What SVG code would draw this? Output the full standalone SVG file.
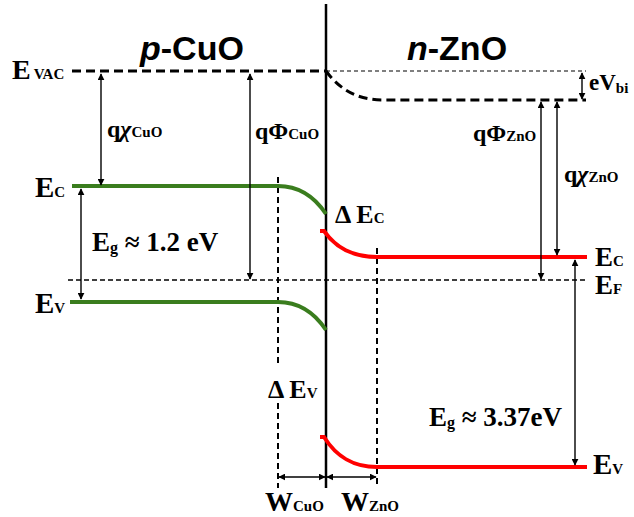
<svg xmlns="http://www.w3.org/2000/svg" width="634" height="517" viewBox="0 0 634 517">
<style>
.lbl{font-family:"Liberation Serif","Times New Roman",serif;font-weight:bold;fill:#000}
.sub{font-size:15px}
.it{font-style:italic}
.ttl{font-family:"Liberation Sans",Arial,sans-serif;font-weight:bold;font-size:34px;fill:#000}
.arr{stroke:#000;stroke-width:1.4;fill:none;marker-start:url(#ah);marker-end:url(#ah)}
.vd{stroke:#000;stroke-width:2;stroke-dasharray:6 4;fill:none}
.green{stroke:#3a7d1e;stroke-width:4;fill:none}
.red{stroke:#ff0000;stroke-width:4;fill:none}
</style>
<defs>
<marker id="ah" viewBox="0 0 10 10" refX="9" refY="5" markerWidth="7" markerHeight="7" markerUnits="userSpaceOnUse" orient="auto-start-reverse">
<path d="M0,0 L10,5 L0,10 Z" fill="#000"/>
</marker>
</defs>
<rect width="634" height="517" fill="#fff"/>

<g id="titles">
<text class="ttl" x="140" y="60"><tspan font-style="italic">p</tspan>-CuO</text>
<text class="ttl" x="407" y="60"><tspan font-style="italic">n</tspan>-ZnO</text>
</g>

<g id="interface">
<line x1="326" y1="4" x2="326" y2="488" stroke="#000" stroke-width="2.5"/>
</g>

<g id="vacuum-level">
<line x1="72" y1="71" x2="326" y2="71" stroke="#000" stroke-width="3" stroke-dasharray="9 5"/>
<line x1="326" y1="71" x2="586" y2="71" stroke="#000" stroke-width="1.2" stroke-dasharray="4 3"/>
<path d="M326,71 C340,90 358,100 383,100 L586,100" stroke="#000" stroke-width="3" stroke-dasharray="9 5" fill="none"/>
</g>

<g id="fermi-level">
<line x1="68" y1="280" x2="588" y2="280" stroke="#000" stroke-width="1.5" stroke-dasharray="5 3"/>
</g>

<g id="depletion-bounds">
<line class="vd" x1="278" y1="177" x2="278" y2="367"/>
<line class="vd" x1="278" y1="403" x2="278" y2="488"/>
<line class="vd" x1="377" y1="248" x2="377" y2="488"/>
</g>

<g id="cuo-bands">
<path class="green" d="M72,186 L278,186 C298,186 314,196 326,214"/>
<path class="green" d="M70,302 L278,302 C298,302 314,312 326,330"/>
</g>

<g id="zno-bands">
<path class="red" d="M320,231 L324,231 C336,248 352,257 377,257 L587,257"/>
<path class="red" d="M320,437 L324,437 C336,456 352,467 377,467 L587,467"/>
</g>

<g id="connectors">
<line class="arr" x1="101" y1="74" x2="101" y2="185"/>
<line class="arr" x1="250" y1="74" x2="250" y2="279"/>
<line class="arr" x1="81" y1="189" x2="81" y2="299"/>
<line class="arr" x1="582" y1="73" x2="582" y2="99"/>
<line class="arr" x1="541" y1="102" x2="541" y2="279"/>
<line class="arr" x1="557" y1="102" x2="557" y2="255"/>
<line class="arr" x1="575" y1="260" x2="575" y2="465"/>
<line class="arr" x1="279" y1="477" x2="325" y2="477"/>
<line class="arr" x1="327" y1="477" x2="376" y2="477"/>
</g>

<g id="labels">
<text class="lbl" x="12" y="79" font-size="28">E<tspan class="sub" dx="3">VAC</tspan></text>
<text class="lbl" x="35" y="197" font-size="29">E<tspan class="sub">C</tspan></text>
<text class="lbl" x="35" y="313" font-size="29">E<tspan class="sub">V</tspan></text>
<text class="lbl" x="107" y="137" font-size="24">q<tspan class="it">χ</tspan><tspan class="sub">CuO</tspan></text>
<text class="lbl" x="255" y="139" font-size="24">qΦ<tspan class="sub">CuO</tspan></text>
<text class="lbl" x="92" y="251" font-size="27">E<tspan font-size="16" dy="2">g</tspan><tspan dy="-2"> ≈ 1.2 eV</tspan></text>
<text class="lbl" x="335" y="223" font-size="26">Δ E<tspan class="sub">C</tspan></text>
<text class="lbl" x="268" y="398" font-size="26">Δ E<tspan class="sub">V</tspan></text>
<text class="lbl" x="589" y="90" font-size="23">eV<tspan class="sub" dy="3">bi</tspan></text>
<text class="lbl" x="473" y="141" font-size="24">qΦ<tspan class="sub">ZnO</tspan></text>
<text class="lbl" x="564" y="182" font-size="24">q<tspan class="it">χ</tspan><tspan class="sub">ZnO</tspan></text>
<text class="lbl" x="595" y="266" font-size="27">E<tspan class="sub">C</tspan></text>
<text class="lbl" x="595" y="294" font-size="27">E<tspan class="sub">F</tspan></text>
<text class="lbl" x="429" y="426" font-size="27">E<tspan font-size="16" dy="2">g</tspan><tspan dy="-2"> ≈ 3.37eV</tspan></text>
<text class="lbl" x="593" y="474" font-size="29">E<tspan class="sub">V</tspan></text>
<text class="lbl" x="265" y="511" font-size="28">W<tspan class="sub">CuO</tspan></text>
<text class="lbl" x="341" y="511" font-size="28">W<tspan class="sub">ZnO</tspan></text>
</g>
</svg>
